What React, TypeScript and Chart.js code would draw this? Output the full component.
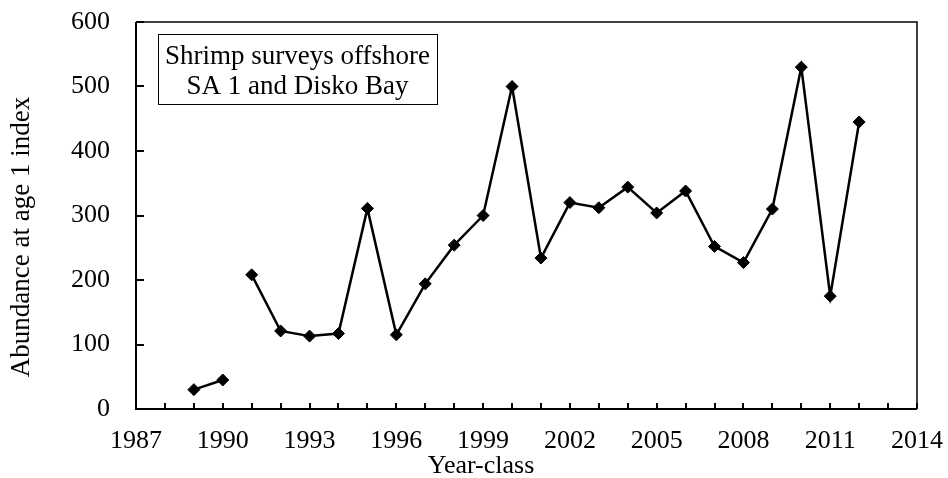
import React, { useEffect, useRef } from 'react';
import { Chart, registerables } from 'chart.js';

Chart.register(...registerables);

const years = [1989, 1990, 1991, 1992, 1993, 1994, 1995, 1996, 1997, 1998, 1999, 2000, 2001, 2002, 2003, 2004, 2005, 2006, 2007, 2008, 2009, 2010, 2011, 2012];
const abundance = [30, 45, 208, 121, 113, 117, 311, 115, 194, 254, 300, 500, 234, 320, 312, 344, 304, 338, 252, 227, 310, 530, 175, 445];
const gapAfterYear = 1990;

const xMin = 1987;
const xMax = 2014;
const xLabelStep = 3;
const yMin = 0;
const yMax = 600;
const yStep = 100;

const annotationLines = ['Shrimp surveys offshore', 'SA 1 and Disko Bay'];
const xTitle = 'Year-class';
const yTitle = 'Abundance at age 1 index';

const FONT = '"Liberation Serif", "Times New Roman", serif';
const FS = 26;

const framePlugin = {
  id: 'frameAndDecor',
  afterDraw(chart: any) {
    const { ctx, chartArea } = chart;
    const { left, right, top, bottom } = chartArea;
    const xs = chart.scales.x;
    const ys = chart.scales.y;
    ctx.save();
    ctx.strokeStyle = '#000';
    ctx.lineWidth = 1.5;
    ctx.beginPath();
    ctx.moveTo(left, top);
    ctx.lineTo(right, top);
    ctx.lineTo(right, bottom);
    ctx.stroke();
    ctx.lineWidth = 2;
    ctx.beginPath();
    ctx.moveTo(left, top);
    ctx.lineTo(left, bottom);
    ctx.lineTo(right, bottom);
    ctx.stroke();
    ctx.lineWidth = 2;
    ctx.beginPath();
    xs.ticks.forEach((t: any) => {
      const px = Math.round(xs.getPixelForValue(t.value));
      ctx.moveTo(px, bottom);
      ctx.lineTo(px, bottom - 6);
    });
    ys.ticks.forEach((t: any) => {
      const py = Math.round(ys.getPixelForValue(t.value));
      ctx.moveTo(left, py);
      ctx.lineTo(left + 8, py);
    });
    ctx.stroke();

    // annotation box
    const bx = left + 22;
    const by = top + 12;
    const bw = 279;
    const bh = 70;
    ctx.lineWidth = 1;
    ctx.strokeRect(bx + 0.5, by + 0.5, bw, bh);
    ctx.fillStyle = '#000';
    ctx.font = `27px ${FONT}`;
    ctx.textAlign = 'center';
    ctx.textBaseline = 'middle';
    annotationLines.forEach((line, i) => {
      ctx.fillText(line, bx + bw / 2, by + 23 + i * 30);
    });

    // axis titles
    ctx.font = `${FS}px ${FONT}`;
    ctx.fillText(xTitle, 481, 466);
    ctx.translate(22, 237);
    ctx.rotate(-Math.PI / 2);
    ctx.font = `27px ${FONT}`;
    ctx.fillText(yTitle, 0, 0);
    ctx.restore();
  },
};

export default function App() {
  const ref = useRef<HTMLCanvasElement | null>(null);
  useEffect(() => {
    if (!ref.current) return;
    const chart = new Chart(ref.current, {
      type: 'line',
      data: {
        datasets: [
          {
            data: years.map((y, i) => ({ x: y, y: abundance[i] })),
            borderColor: '#000',
            backgroundColor: '#000',
            borderWidth: 2.5,
            pointStyle: 'rectRot',
            pointRadius: 6,
            pointBorderWidth: 1,
            pointBackgroundColor: '#000',
            pointBorderColor: '#000',
            tension: 0,
            fill: false,
            segment: {
              borderColor: (c: any) => (c.p0.parsed.x === gapAfterYear ? 'rgba(0,0,0,0)' : '#000'),
            },
          },
        ],
      },
      options: {
        responsive: false,
        animation: false,
        layout: { padding: { top: 22, right: 31, left: 0, bottom: 0 } },
        plugins: { legend: { display: false }, tooltip: { enabled: false } },
        scales: {
          x: {
            type: 'linear',
            min: xMin,
            max: xMax,
            grid: { display: false, drawTicks: false },
            border: { display: false },
            ticks: {
              stepSize: 1,
              autoSkip: false,
              maxRotation: 0,
              padding: 17,
              color: '#000',
              font: { family: FONT, size: FS },
              callback: (v: any) => ((Number(v) - xMin) % xLabelStep === 0 ? String(v) : ''),
            },
            afterFit: (s: any) => {
              s.height = 69;
              s.paddingLeft = 0;
              s.paddingRight = 0;
            },
          },
          y: {
            type: 'linear',
            min: yMin,
            max: yMax,
            grid: { display: false, drawTicks: false },
            border: { display: false },
            ticks: {
              stepSize: yStep,
              padding: 26,
              color: '#000',
              font: { family: FONT, size: FS },
            },
            afterFit: (s: any) => {
              s.width = 136;
              s.paddingTop = 0;
              s.paddingBottom = 0;
            },
          },
        },
      },
      plugins: [framePlugin],
    });
    return () => chart.destroy();
  }, []);
  return (
    <div style={{ position: 'fixed', left: 0, top: 0, width: 948, height: 478, background: '#fff' }}>
      <canvas ref={ref} width={948} height={478} />
    </div>
  );
}
